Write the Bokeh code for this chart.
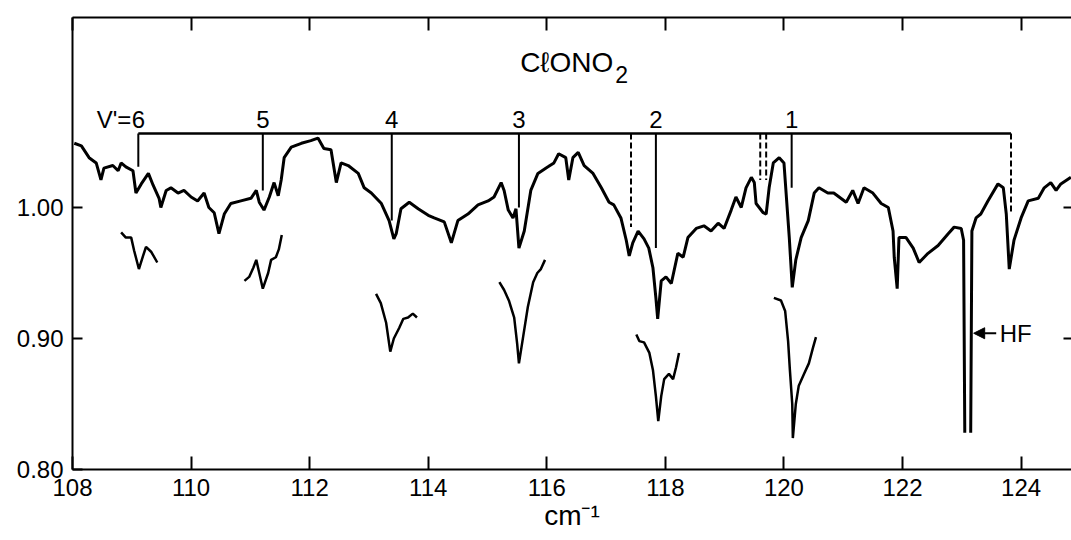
import math
from bokeh.plotting import figure
from bokeh.models import LinearAxis, FixedTicker, Arrow, NormalHead
from bokeh.core.properties import value
from bokeh.embed import file_html
from bokeh.resources import INLINE

NAN = float("nan")

# ---- main ClONO2 transmission spectrum (wavenumber cm^-1, relative transmission)
main_x = [108.03, 108.15, 108.28, 108.40, 108.48, 108.53, 108.68, 108.77, 108.82, 108.90,
          109.02, 109.07, 109.16, 109.28, 109.36, 109.46, 109.49, 109.58, 109.66, 109.78,
          109.88, 110.00, 110.11, 110.22, 110.30, 110.39, 110.47, 110.56, 110.67, 110.84,
          111.01, 111.10, 111.15, 111.23, 111.32, 111.40, 111.47, 111.52, 111.57, 111.69,
          111.86, 112.02, 112.14, 112.24, 112.36, 112.45, 112.53, 112.65, 112.82, 112.92,
          113.04, 113.21, 113.34, 113.42, 113.46, 113.54, 113.68, 113.83, 114.00, 114.10,
          114.27, 114.39, 114.50, 114.67, 114.84, 115.01, 115.11, 115.23, 115.28, 115.35,
          115.43, 115.48, 115.53, 115.62, 115.73, 115.85, 116.02, 116.12, 116.20, 116.32,
          116.37, 116.44, 116.53, 116.63, 116.78, 116.92, 117.05, 117.13, 117.25, 117.34,
          117.39, 117.45, 117.54, 117.64, 117.72, 117.79, 117.84, 117.87, 117.93, 118.01,
          118.10, 118.21, 118.30, 118.38, 118.52, 118.65, 118.77, 118.89, 118.99, 119.11,
          119.19, 119.28, 119.36, 119.45, 119.50, 119.53, 119.65, 119.70, 119.75, 119.82,
          119.92, 120.00, 120.09, 120.14, 120.20, 120.29, 120.41, 120.51, 120.59, 120.74,
          120.84, 121.05, 121.16, 121.25, 121.35, 121.50, 121.64, 121.76, 121.84, 121.86,
          121.91, 121.94, 122.06, 122.18, 122.28, 122.43, 122.60, 122.77, 122.87, 122.99,
          123.03, 123.05, NAN, 123.15, 123.17, 123.24, 123.32, 123.44, 123.61, 123.70,
          123.75, 123.80, 123.88, 124.00, 124.12, 124.29, 124.39, 124.50, 124.59, 124.67,
          124.84]
main_y = [1.049, 1.047, 1.038, 1.034, 1.021, 1.030, 1.032, 1.028, 1.034, 1.031,
          1.028, 1.011, 1.018, 1.026, 1.017, 1.007, 1.000, 1.013, 1.015, 1.011,
          1.013, 1.008, 1.005, 1.011, 1.000, 0.996, 0.980, 0.995, 1.003, 1.005,
          1.007, 1.013, 1.004, 0.998, 1.008, 1.019, 1.009, 1.021, 1.038, 1.046,
          1.049, 1.051, 1.053, 1.045, 1.044, 1.019, 1.034, 1.032, 1.026, 1.015,
          1.011, 1.003, 0.990, 0.976, 0.980, 0.999, 1.004, 0.999, 0.994, 0.992,
          0.989, 0.973, 0.990, 0.995, 1.002, 1.005, 1.008, 1.019, 1.013, 0.998,
          0.992, 0.999, 0.969, 0.982, 1.013, 1.026, 1.031, 1.034, 1.041, 1.038,
          1.021, 1.038, 1.042, 1.032, 1.026, 1.015, 1.004, 1.002, 0.992, 0.975,
          0.963, 0.973, 0.982, 0.976, 0.969, 0.954, 0.931, 0.915, 0.944, 0.947,
          0.942, 0.965, 0.962, 0.977, 0.984, 0.986, 0.982, 0.988, 0.984, 0.998,
          1.008, 1.000, 1.015, 1.023, 1.019, 1.003, 0.996, 0.995, 1.015, 1.034,
          1.038, 1.034, 0.977, 0.939, 0.960, 0.977, 0.990, 1.011, 1.015, 1.011,
          1.011, 1.004, 1.013, 1.003, 1.015, 1.011, 1.003, 1.000, 0.982, 0.962,
          0.938, 0.977, 0.977, 0.969, 0.958, 0.965, 0.971, 0.980, 0.985, 0.984,
          0.975, 0.828, NAN, 0.828, 0.982, 0.992, 0.995, 1.005, 1.018, 1.015,
          0.995, 0.953, 0.975, 0.992, 1.005, 1.007, 1.015, 1.019, 1.013, 1.018,
          1.023]

# ---- expanded (offset) traces of the individual bands
inset6_x = [108.82, 108.90, 108.99, 109.04, 109.12, 109.19, 109.24, 109.33, 109.43]
inset6_y = [0.981, 0.977, 0.977, 0.967, 0.953, 0.963, 0.970, 0.966, 0.958]
inset5_x = [110.90, 110.98, 111.05, 111.10, 111.15, 111.21, 111.30, 111.35, 111.43, 111.48, 111.53]
inset5_y = [0.944, 0.947, 0.954, 0.960, 0.950, 0.938, 0.950, 0.960, 0.962, 0.968, 0.979]
inset4_x = [113.12, 113.20, 113.29, 113.36, 113.42, 113.51, 113.58, 113.66, 113.74, 113.81]
inset4_y = [0.934, 0.927, 0.912, 0.890, 0.900, 0.908, 0.915, 0.916, 0.919, 0.916]
inset3_x = [115.20, 115.28, 115.36, 115.45, 115.50, 115.53, 115.60, 115.68, 115.77, 115.84, 115.90, 115.97]
inset3_y = [0.943, 0.937, 0.929, 0.916, 0.896, 0.881, 0.901, 0.924, 0.943, 0.950, 0.953, 0.960]
inset2_x = [117.51, 117.56, 117.64, 117.73, 117.79, 117.84, 117.88, 117.93, 117.98, 118.06, 118.13, 118.18, 118.23]
inset2_y = [0.903, 0.898, 0.897, 0.889, 0.876, 0.856, 0.837, 0.856, 0.869, 0.873, 0.869, 0.878, 0.889]
inset1_x = [119.83, 119.95, 120.02, 120.07, 120.10, 120.14, 120.15, 120.20, 120.25, 120.34, 120.42, 120.49, 120.54]
inset1_y = [0.931, 0.929, 0.921, 0.898, 0.876, 0.850, 0.824, 0.850, 0.864, 0.873, 0.881, 0.893, 0.901]

# ---- band assignments (v' progression)
band_labels = ["6", "5", "4", "3", "2", "1"]
band_x = [109.11, 111.21, 113.385, 115.53, 117.84, 120.13]
band_bottom = [1.031, 1.013, 0.990, 1.000, 0.969, 1.015]
dash_x = [117.42, 119.60, 119.70, 123.83]
dash_bottom = [0.985, 1.021, 1.021, 0.995]
bracket_y = 1.0565
label_y = 1.0675

x_ticks = [108, 110, 112, 114, 116, 118, 120, 122, 124]
y_ticks = [0.80, 0.90, 1.00]
y_tick_labels = ["0.80", "0.90", "1.00"]
right_ticks = [0.90, 1.00]

FONT = "Liberation Sans"

p = figure(width=1071, height=540, x_range=(108, 124.85), y_range=(0.80, 1.145),
           output_backend="svg", toolbar_location=None,
           min_border_left=72, min_border_top=17, min_border_right=0, min_border_bottom=71)
p.outline_line_color = None
p.xgrid.visible = False
p.ygrid.visible = False

# bottom axis
xa = p.xaxis[0]
xa.ticker = FixedTicker(ticks=x_ticks)
xa.major_tick_in = 13
xa.major_tick_out = 0
xa.minor_tick_line_color = None
xa.axis_line_width = 2
xa.major_tick_line_width = 2
xa.major_label_text_font = FONT
xa.major_label_text_font_size = "24px"
xa.major_label_text_color = "black"
xa.major_label_standoff = 9
xa.axis_label = "cm\u207b\u00b9"
xa.axis_label_text_font = FONT
xa.axis_label_text_font_size = "28px"
xa.axis_label_text_font_style = "normal"
xa.axis_label_text_color = "black"
xa.axis_label_standoff = 1

# left axis
ya = p.yaxis[0]
ya.ticker = FixedTicker(ticks=y_ticks)
ya.major_label_overrides = {t: s for t, s in zip(y_ticks, y_tick_labels)}
ya.major_tick_in = 10
ya.major_tick_out = 0
ya.minor_tick_line_color = None
ya.axis_line_width = 2
ya.major_tick_line_width = 2
ya.major_label_text_font = FONT
ya.major_label_text_font_size = "24px"
ya.major_label_text_color = "black"
ya.major_label_standoff = 9

# top axis (ticks only)
top = LinearAxis(ticker=FixedTicker(ticks=x_ticks), major_tick_in=13, major_tick_out=0,
                 minor_tick_line_color=None, axis_line_width=2, major_tick_line_width=2,
                 major_label_text_font_size="1px", major_label_text_color=None,
                 major_label_standoff=0)
p.add_layout(top, "above")

# right axis (ticks only)
right = LinearAxis(ticker=FixedTicker(ticks=right_ticks), major_tick_in=8, major_tick_out=0,
                   minor_tick_line_color=None, axis_line_color=None, major_tick_line_width=2,
                   major_label_text_font_size="1px", major_label_text_color=None,
                   major_label_standoff=0)
p.add_layout(right, "right")

# spectrum
p.line(main_x, main_y, line_color="black", line_width=3)
p.multi_line([inset6_x, inset5_x, inset4_x, inset3_x, inset2_x, inset1_x],
             [inset6_y, inset5_y, inset4_y, inset3_y, inset2_y, inset1_y],
             line_color="black", line_width=2.5)

# progression bracket
p.segment(x0=[band_x[0]], y0=[bracket_y], x1=[dash_x[-1]], y1=[bracket_y],
          line_color="black", line_width=2.4)
p.segment(x0=band_x, y0=[bracket_y] * len(band_x), x1=band_x, y1=band_bottom,
          line_color="black", line_width=2)
p.segment(x0=dash_x, y0=[bracket_y] * len(dash_x), x1=dash_x, y1=dash_bottom,
          line_color="black", line_width=2, line_dash="6 3")

p.text(x=band_x, y=[label_y] * len(band_x), text=band_labels, text_align="center",
       text_baseline="middle", text_font=value(FONT), text_font_size="24px",
       text_color="black")
p.text(x=[band_x[0]], y=[label_y], text=["V'="], text_align="right",
       text_baseline="middle", x_offset=-7, text_font=value(FONT),
       text_font_size="24px", text_color="black")

# molecule title
p.text(x=[117.12], y=[1.1107], text=["C\u2113ONO"], text_align="right",
       text_baseline="middle", text_font=value(FONT), text_font_size="28px",
       text_color="black")
p.text(x=[117.12], y=[1.1107], text=["2"], text_align="left", x_offset=2, y_offset=12,
       text_baseline="middle", text_font=value(FONT), text_font_size="23px",
       text_color="black")

# HF marker
p.add_layout(Arrow(end=NormalHead(size=11, fill_color="black", line_color="black"),
                   x_start=123.58, y_start=0.904, x_end=123.2, y_end=0.904,
                   line_color="black", line_width=2))
p.text(x=[123.64], y=[0.904], text=["HF"], text_align="left", text_baseline="middle",
       text_font=value(FONT), text_font_size="24px", text_color="black")

open("out.html", "w").write(file_html(p, INLINE))
